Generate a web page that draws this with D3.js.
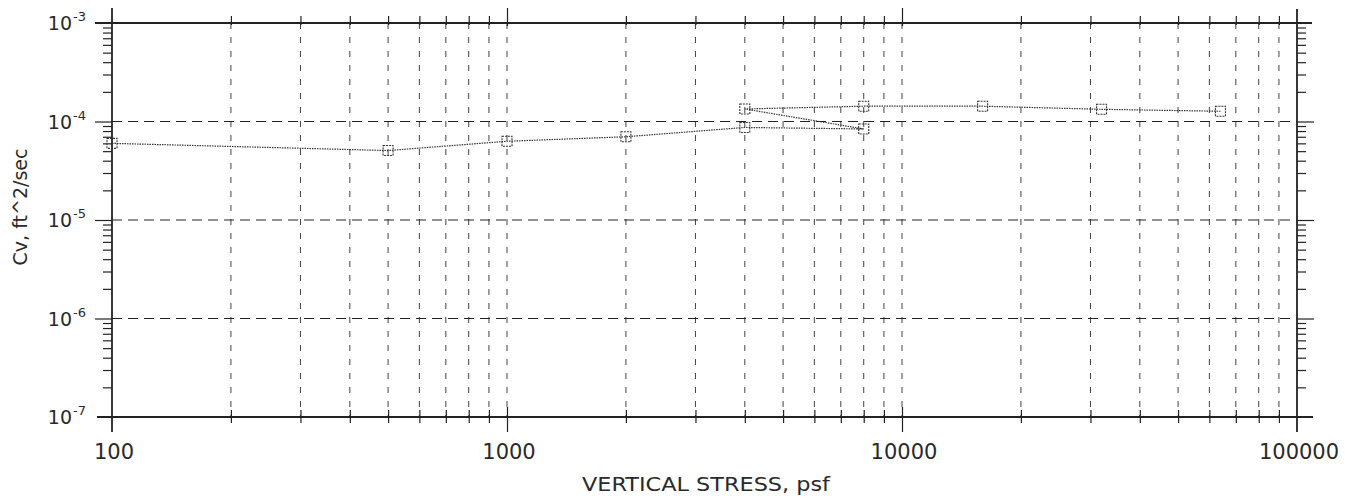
<!DOCTYPE html>
<html><head><meta charset="utf-8">
<script src="https://cdn.jsdelivr.net/npm/d3@7"></script>
<style>
body{margin:0;background:#fff;}
text{font-family:"DejaVu Sans",sans-serif;fill:#2a2a2a;}
</style></head>
<body><svg id="c" width="1360" height="498"></svg>
<script>
const stress = [100, 500, 1000, 2000, 4000, 8000, 4000, 8000, 16000, 32000, 64000];
const cv = [6.0e-5, 5.07e-5, 6.3e-5, 7.0e-5, 8.7e-5, 8.4e-5, 1.34e-4, 1.43e-4, 1.43e-4, 1.33e-4, 1.27e-4];
const xTickLabels = ["100", "1000", "10000", "100000"];
const xTickValues = [100, 1000, 10000, 100000];
const yTickValues = [1e-3, 1e-4, 1e-5, 1e-6, 1e-7];
const yTickExp = ["-3", "-4", "-5", "-6", "-7"];
const xTitle = "VERTICAL STRESS, psf";
const yTitle = "Cv, ft^2/sec";

const L = 112, R = 1297, T = 23, B = 417;
const svg = d3.select("#c");
const x = d3.scaleLog().domain([100, 100000]).range([L, R]);
const y = d3.scaleLog().domain([1e-7, 1e-3]).range([B, T]);

const xMinor = [], yMinor = [];
for (let d = 100; d < 100000; d *= 10) for (let k = 2; k <= 9; k++) xMinor.push(d * k);
for (let d = 1e-7; d < 1e-3 * 0.99; d *= 10) for (let k = 2; k <= 9; k++) yMinor.push(d * k);
const xGridVals = xMinor.concat([1000, 10000]);
const yGridVals = [1e-4, 1e-5, 1e-6];

const ink = "#222";
svg.append("g").selectAll("line").data(xGridVals).join("line")
  .attr("x1", d => x(d)).attr("x2", d => x(d)).attr("y1", T).attr("y2", B)
  .attr("stroke", ink).attr("stroke-width", 1).attr("stroke-dasharray", "6,8").attr("opacity", 0.85);
svg.append("g").selectAll("line").data(yGridVals).join("line")
  .attr("x1", L).attr("x2", R).attr("y1", d => y(d)).attr("y2", d => y(d))
  .attr("stroke", ink).attr("stroke-width", 1).attr("stroke-dasharray", "10,6");

svg.append("line").attr("x1", 95).attr("x2", 1312).attr("y1", T).attr("y2", T).attr("stroke", ink).attr("stroke-width", 1.8);
svg.append("line").attr("x1", 97).attr("x2", 1313).attr("y1", B).attr("y2", B).attr("stroke", ink).attr("stroke-width", 1.8);
svg.append("line").attr("x1", L).attr("x2", L).attr("y1", 8).attr("y2", 432).attr("stroke", ink).attr("stroke-width", 1.8);
svg.append("line").attr("x1", R).attr("x2", R).attr("y1", 9).attr("y2", 432).attr("stroke", ink).attr("stroke-width", 1.8);

function strip(g){ g.select(".domain").remove(); g.selectAll("text").remove(); g.selectAll("line").attr("stroke", ink); }
svg.append("g").attr("transform", `translate(0,${B + 6})`)
  .call(d3.axisTop(x).tickValues(xMinor).tickSize(13).tickFormat("")).call(strip);
svg.append("g").attr("transform", `translate(0,${B + 15})`)
  .call(d3.axisTop(x).tickValues([1000, 10000]).tickSize(25).tickFormat("")).call(strip);
svg.append("g").attr("transform", `translate(0,${T + 2})`)
  .call(d3.axisTop(x).tickValues(xMinor).tickSize(9).tickFormat("")).call(strip);
svg.append("g").attr("transform", `translate(0,${T + 3})`)
  .call(d3.axisTop(x).tickValues([1000, 10000]).tickSize(18).tickFormat("")).call(strip);
svg.append("g").attr("transform", `translate(${L},0)`)
  .call(d3.axisLeft(y).tickValues(yMinor).tickSize(9).tickFormat("")).call(strip);
svg.append("g").attr("transform", `translate(${L},0)`)
  .call(d3.axisLeft(y).tickValues(yGridVals).tickSize(17).tickFormat("")).call(strip);
svg.append("g").attr("transform", `translate(${R},0)`)
  .call(d3.axisRight(y).tickValues(yMinor).tickSize(9).tickFormat("")).call(strip);
svg.append("g").attr("transform", `translate(${R},0)`)
  .call(d3.axisRight(y).tickValues(yGridVals).tickSize(17).tickFormat("")).call(strip);
svg.selectAll("g.tick line").attr("stroke-width", 1.2);

svg.append("g").selectAll("text").data(xTickValues).join("text")
  .attr("x", d => x(d) + 2).attr("y", 459).attr("text-anchor", "middle")
  .attr("font-size", 21).text((d, i) => xTickLabels[i]);

const yl = svg.append("g").selectAll("text").data(yTickValues).join("text")
  .attr("x", 86).attr("y", d => y(d) + 7).attr("text-anchor", "end").attr("font-size", 19);
yl.append("tspan").text("10");
yl.append("tspan").attr("font-size", 13).attr("dy", -9).attr("dx", 1).text((d, i) => yTickExp[i]);

svg.append("text").attr("x", 706).attr("y", 491).attr("text-anchor", "middle").attr("font-size", 20)
  .attr("textLength", 248).attr("lengthAdjust", "spacingAndGlyphs").text(xTitle);
svg.append("text").attr("transform", "translate(27,207) rotate(-90)").attr("text-anchor", "middle")
  .attr("font-size", 19).text(yTitle);

const pts = stress.map((s, i) => [s, cv[i]]);
svg.append("path").datum(pts)
  .attr("d", d3.line().x(d => x(d[0])).y(d => y(d[1])))
  .attr("fill", "none").attr("stroke", "#333").attr("stroke-width", 1.2).attr("stroke-dasharray", "1.5,1");
svg.append("g").selectAll("rect").data(pts).join("rect")
  .attr("x", d => x(d[0]) - 5).attr("y", d => y(d[1]) - 5).attr("width", 10).attr("height", 10)
  .attr("fill", "none").attr("stroke", "#333").attr("stroke-width", 1.1).attr("stroke-dasharray", "2,1");
</script></body></html>
